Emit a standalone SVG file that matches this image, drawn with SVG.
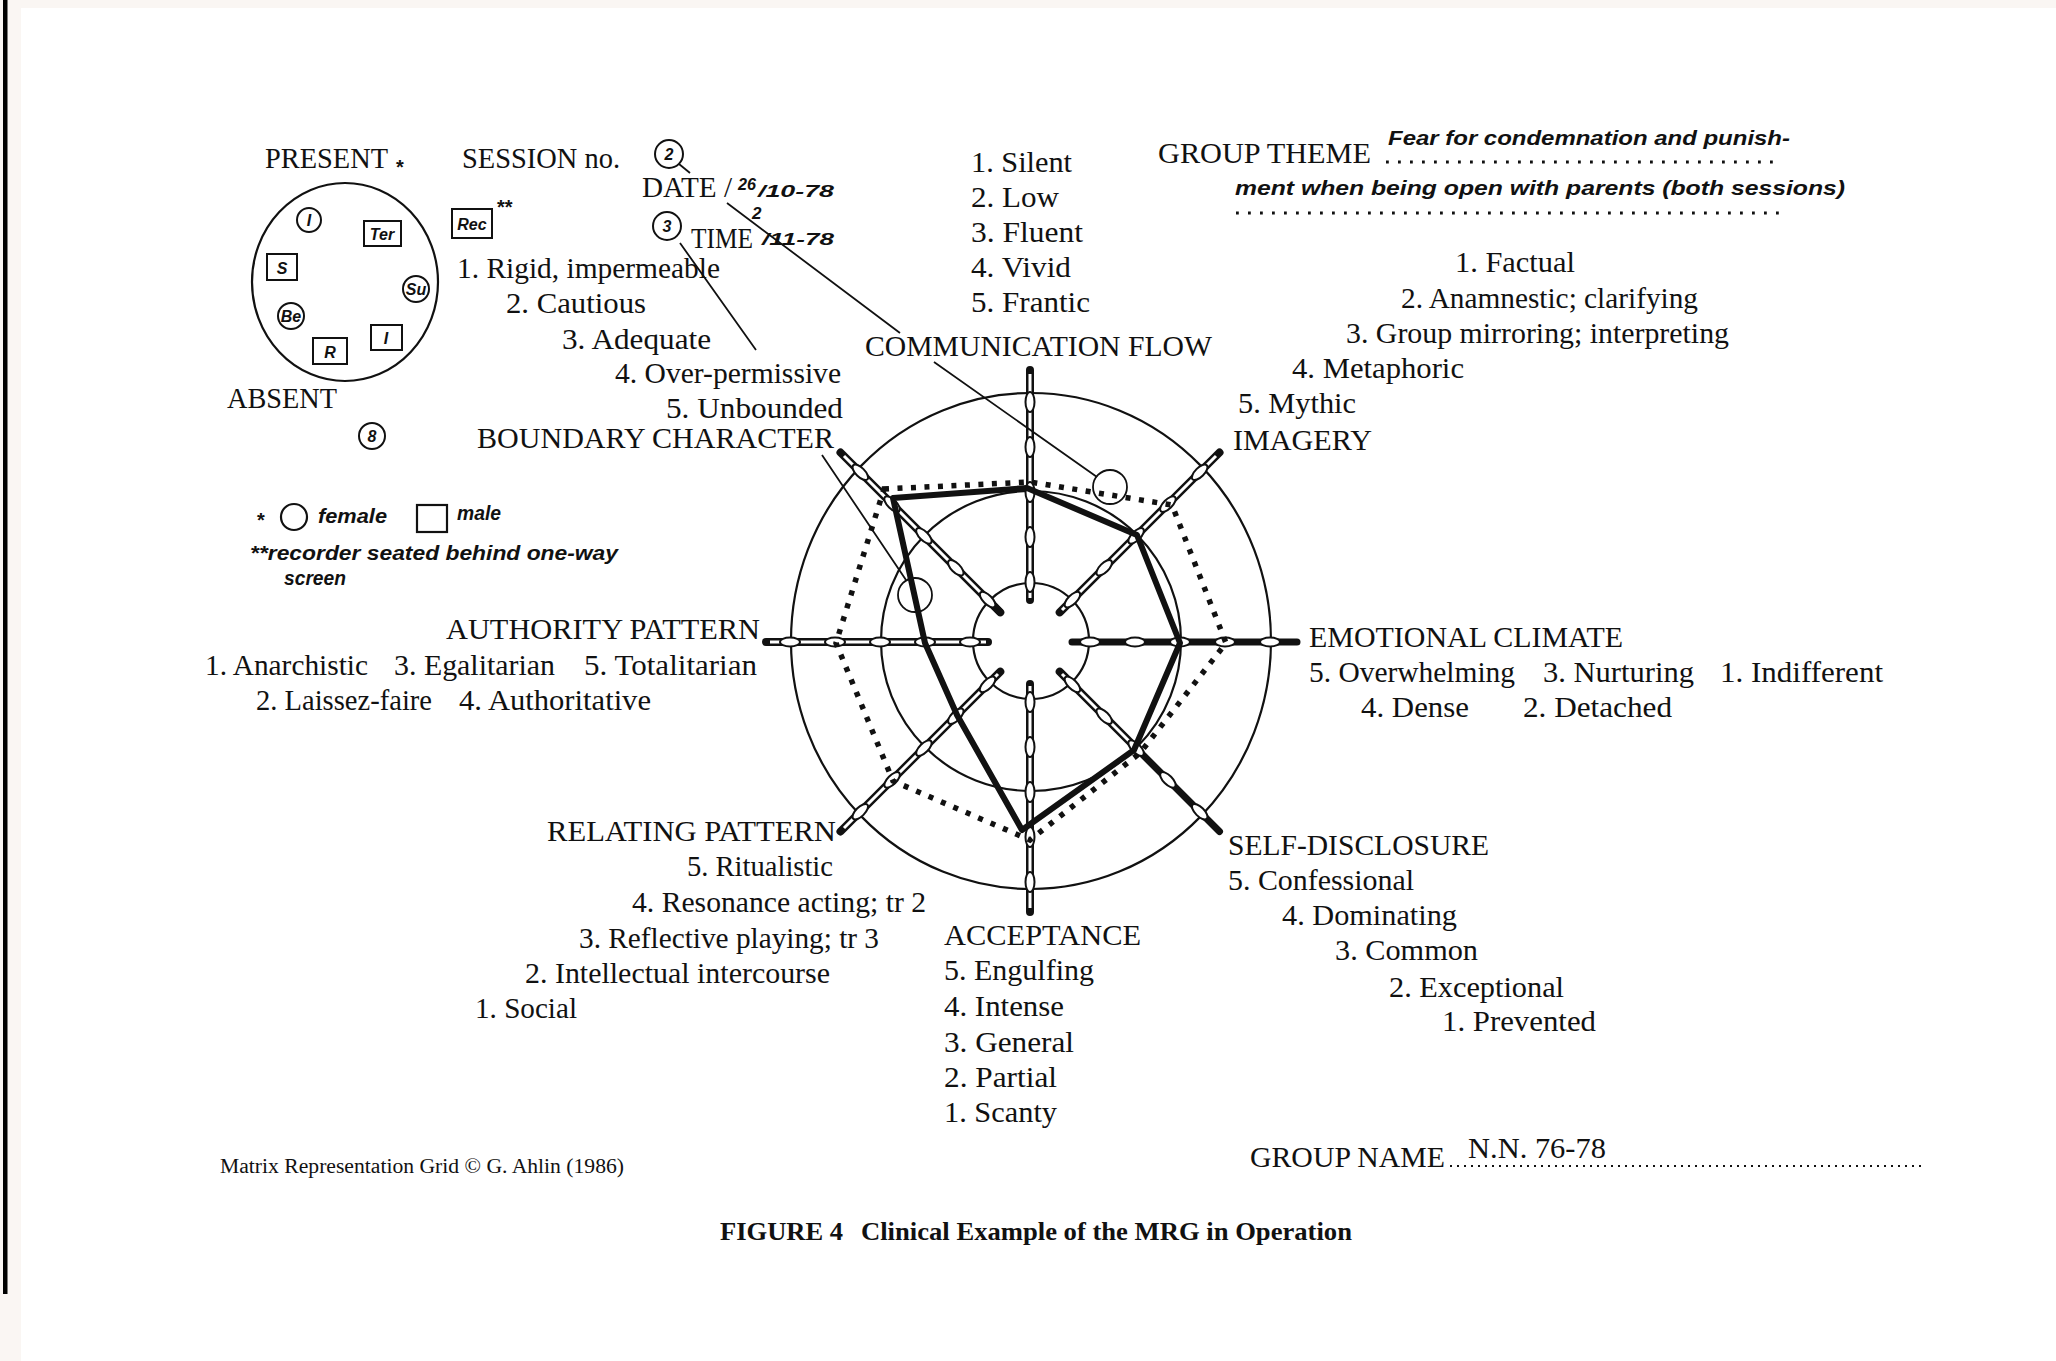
<svg xmlns="http://www.w3.org/2000/svg" width="2056" height="1361" viewBox="0 0 2056 1361" xml:space="preserve">
<style>
.t{font-family:"Liberation Serif","Times New Roman",serif;font-size:29.5px;fill:#111}
.tf{font-family:"Liberation Serif","Times New Roman",serif;font-size:20px;fill:#111}
.tb{font-family:"Liberation Serif","Times New Roman",serif;font-size:25px;font-weight:bold;fill:#111}
.h{font-family:"Liberation Sans",Arial,sans-serif;font-style:italic;font-weight:bold;font-size:20px;fill:#111}
.hs{font-family:"Liberation Sans",Arial,sans-serif;font-style:italic;font-weight:bold;font-size:17px;fill:#111}
.hm{font-family:"Liberation Sans",Arial,sans-serif;font-style:italic;font-weight:bold;font-size:16px;fill:#111;text-anchor:middle}
.ast{font-family:"Liberation Sans",Arial,sans-serif;font-weight:bold;font-size:20px;fill:#111}
.ring{fill:none;stroke:#111;stroke-width:2.2}
.mk{fill:#fff;stroke:#111;stroke-width:2}
.so{stroke:#111;stroke-width:8;stroke-linecap:round;fill:none}
.si{stroke:#fff;stroke-width:3;fill:none}
.ss{stroke:#111;stroke-width:7;stroke-linecap:round;fill:none}
.ann{stroke:#111;stroke-width:1.8;fill:none}
.lead{stroke:#111;stroke-width:2.8;stroke-dasharray:2.8 9.2}
.lead2{stroke:#111;stroke-width:2;stroke-dasharray:2 5}
</style>
<defs>
<ellipse id="bead" cx="0" cy="0" rx="4.5" ry="10" fill="#fff" stroke="#111" stroke-width="2"/>
</defs>
<rect x="0" y="0" width="2056" height="1361" fill="#faf6f3"/>
<rect x="21" y="8" width="2035" height="1353" fill="#ffffff"/>
<rect x="3" y="0" width="4.5" height="1294" fill="#000"/>

<g id="present-seating">
<text class="t" x="265" y="168" textLength="123" lengthAdjust="spacingAndGlyphs">PRESENT</text>
<text class="ast" x="396" y="174">*</text>
<ellipse class="ring" cx="345" cy="282" rx="93" ry="99"/>
<circle class="mk" cx="309" cy="220" r="12"/><text class="hm" x="309" y="226">I</text>
<rect class="mk" x="364" y="221" width="37" height="25"/><text class="hm" x="382" y="240">Ter</text>
<rect class="mk" x="267" y="254" width="30" height="26"/><text class="hm" x="282" y="274">S</text>
<circle class="mk" cx="416" cy="289" r="13"/><text class="hm" x="416" y="295" font-size="15">Su</text>
<circle class="mk" cx="291" cy="316" r="13"/><text class="hm" x="291" y="322" font-size="15">Be</text>
<rect class="mk" x="313" y="338" width="34" height="26"/><text class="hm" x="330" y="358">R</text>
<rect class="mk" x="371" y="325" width="31" height="25"/><text class="hm" x="386" y="344">I</text>
<text class="t" x="227" y="408" textLength="110" lengthAdjust="spacingAndGlyphs">ABSENT</text>
<circle class="mk" cx="372" cy="436" r="13"/><text class="hm" x="372" y="442">8</text>
</g>

<g id="session-info">
<text class="t" x="462" y="168" textLength="158" lengthAdjust="spacingAndGlyphs">SESSION no.</text>
<circle class="mk" cx="669" cy="154" r="14"/><text class="hm" x="669" y="160">2</text>
<path class="ann" d="M679 164 L690 173"/>
<text class="t" x="642" y="197" textLength="90" lengthAdjust="spacingAndGlyphs">DATE /</text>
<text class="hs" x="738" y="190" font-size="14" textLength="18" lengthAdjust="spacingAndGlyphs">26</text>
<text class="hs" x="758" y="197" textLength="76" lengthAdjust="spacingAndGlyphs">/10-78</text>
<circle class="mk" cx="667" cy="226" r="14"/><text class="hm" x="667" y="232">3</text>
<text class="t" x="691" y="248" textLength="62" lengthAdjust="spacingAndGlyphs">TIME</text>
<text class="hs" x="752" y="219" font-size="13">2</text>
<text class="hs" x="762" y="245" textLength="72" lengthAdjust="spacingAndGlyphs">/11-78</text>
<rect class="mk" x="452" y="209" width="40" height="29"/><text class="hm" x="472" y="230">Rec</text>
<text class="ast" x="497" y="214" font-size="17">**</text>
</g>

<g id="boundary-character">
<text class="t" x="457" y="278" textLength="263" lengthAdjust="spacingAndGlyphs">1.  Rigid, impermeable</text>
<text class="t" x="506" y="313" textLength="140" lengthAdjust="spacingAndGlyphs">2.  Cautious</text>
<text class="t" x="562" y="349" textLength="149" lengthAdjust="spacingAndGlyphs">3.  Adequate</text>
<text class="t" x="615" y="383" textLength="226" lengthAdjust="spacingAndGlyphs">4.  Over-permissive</text>
<text class="t" x="666" y="418" textLength="177" lengthAdjust="spacingAndGlyphs">5.  Unbounded</text>
<text class="t" x="477" y="448" textLength="357" lengthAdjust="spacingAndGlyphs">BOUNDARY CHARACTER</text>
</g>

<g id="legend">
<text class="ast" x="257" y="527">*</text>
<circle class="ring" cx="294" cy="517" r="13"/>
<text class="h" x="318" y="523" textLength="69" lengthAdjust="spacingAndGlyphs">female</text>
<rect class="ring" x="417" y="505" width="30" height="27"/>
<text class="h" x="457" y="520" textLength="44" lengthAdjust="spacingAndGlyphs">male</text>
<text class="h" x="250" y="560" textLength="368" lengthAdjust="spacingAndGlyphs">**recorder seated behind one-way</text>
<text class="h" x="284" y="585" textLength="62" lengthAdjust="spacingAndGlyphs">screen</text>
</g>

<g id="communication-flow">
<text class="t" x="971" y="172" textLength="101" lengthAdjust="spacingAndGlyphs">1.  Silent</text>
<text class="t" x="971" y="207" textLength="88" lengthAdjust="spacingAndGlyphs">2.  Low</text>
<text class="t" x="971" y="242" textLength="112" lengthAdjust="spacingAndGlyphs">3.  Fluent</text>
<text class="t" x="971" y="277" textLength="100" lengthAdjust="spacingAndGlyphs">4.  Vivid</text>
<text class="t" x="971" y="312" textLength="119" lengthAdjust="spacingAndGlyphs">5.  Frantic</text>
<text class="t" x="865" y="356" textLength="347" lengthAdjust="spacingAndGlyphs">COMMUNICATION FLOW</text>
</g>

<g id="group-theme">
<text class="t" x="1158" y="163" textLength="213" lengthAdjust="spacingAndGlyphs">GROUP THEME</text>
<line class="lead" x1="1386" y1="162" x2="1782" y2="162"/>
<text class="h" x="1388" y="145" textLength="402" lengthAdjust="spacingAndGlyphs">Fear for condemnation and punish-</text>
<text class="h" x="1235" y="195" textLength="610" lengthAdjust="spacingAndGlyphs">ment when being open with parents (both sessions)</text>
<line class="lead" x1="1236" y1="213" x2="1782" y2="213"/>
</g>

<g id="imagery">
<text class="t" x="1455" y="272" textLength="120" lengthAdjust="spacingAndGlyphs">1.  Factual</text>
<text class="t" x="1401" y="308" textLength="297" lengthAdjust="spacingAndGlyphs">2.  Anamnestic; clarifying</text>
<text class="t" x="1346" y="343" textLength="383" lengthAdjust="spacingAndGlyphs">3.  Group mirroring; interpreting</text>
<text class="t" x="1292" y="378" textLength="172" lengthAdjust="spacingAndGlyphs">4.  Metaphoric</text>
<text class="t" x="1238" y="413" textLength="118" lengthAdjust="spacingAndGlyphs">5.  Mythic</text>
<text class="t" x="1233" y="450" textLength="139" lengthAdjust="spacingAndGlyphs">IMAGERY</text>
</g>

<g id="emotional-climate">
<text class="t" x="1309" y="647" textLength="314" lengthAdjust="spacingAndGlyphs">EMOTIONAL CLIMATE</text>
<text class="t" x="1309" y="682" textLength="206" lengthAdjust="spacingAndGlyphs">5.  Overwhelming</text>
<text class="t" x="1543" y="682" textLength="151" lengthAdjust="spacingAndGlyphs">3.  Nurturing</text>
<text class="t" x="1720" y="682" textLength="163" lengthAdjust="spacingAndGlyphs">1.  Indifferent</text>
<text class="t" x="1361" y="717" textLength="108" lengthAdjust="spacingAndGlyphs">4.  Dense</text>
<text class="t" x="1523" y="717" textLength="149" lengthAdjust="spacingAndGlyphs">2.  Detached</text>
</g>

<g id="self-disclosure">
<text class="t" x="1228" y="855" textLength="261" lengthAdjust="spacingAndGlyphs">SELF-DISCLOSURE</text>
<text class="t" x="1228" y="890" textLength="186" lengthAdjust="spacingAndGlyphs">5.  Confessional</text>
<text class="t" x="1282" y="925" textLength="175" lengthAdjust="spacingAndGlyphs">4.  Dominating</text>
<text class="t" x="1335" y="960" textLength="143" lengthAdjust="spacingAndGlyphs">3.  Common</text>
<text class="t" x="1389" y="997" textLength="175" lengthAdjust="spacingAndGlyphs">2.  Exceptional</text>
<text class="t" x="1442" y="1031" textLength="154" lengthAdjust="spacingAndGlyphs">1.  Prevented</text>
</g>

<g id="acceptance">
<text class="t" x="944" y="945" textLength="197" lengthAdjust="spacingAndGlyphs">ACCEPTANCE</text>
<text class="t" x="944" y="980" textLength="150" lengthAdjust="spacingAndGlyphs">5.  Engulfing</text>
<text class="t" x="944" y="1016" textLength="120" lengthAdjust="spacingAndGlyphs">4.  Intense</text>
<text class="t" x="944" y="1052" textLength="130" lengthAdjust="spacingAndGlyphs">3.  General</text>
<text class="t" x="944" y="1087" textLength="113" lengthAdjust="spacingAndGlyphs">2.  Partial</text>
<text class="t" x="944" y="1122" textLength="113" lengthAdjust="spacingAndGlyphs">1.  Scanty</text>
</g>

<g id="relating-pattern">
<text class="t" x="547" y="841" textLength="289" lengthAdjust="spacingAndGlyphs">RELATING PATTERN</text>
<text class="t" x="687" y="876" textLength="146" lengthAdjust="spacingAndGlyphs">5. Ritualistic</text>
<text class="t" x="632" y="912" textLength="294" lengthAdjust="spacingAndGlyphs">4.  Resonance acting; tr 2</text>
<text class="t" x="579" y="948" textLength="300" lengthAdjust="spacingAndGlyphs">3.  Reflective playing; tr 3</text>
<text class="t" x="525" y="983" textLength="305" lengthAdjust="spacingAndGlyphs">2.  Intellectual intercourse</text>
<text class="t" x="475" y="1018" textLength="102" lengthAdjust="spacingAndGlyphs">1.  Social</text>
</g>

<g id="authority-pattern">
<text class="t" x="446" y="639" textLength="314" lengthAdjust="spacingAndGlyphs">AUTHORITY PATTERN</text>
<text class="t" x="205" y="675" textLength="163" lengthAdjust="spacingAndGlyphs">1.  Anarchistic</text>
<text class="t" x="394" y="675" textLength="161" lengthAdjust="spacingAndGlyphs">3.  Egalitarian</text>
<text class="t" x="584" y="675" textLength="173" lengthAdjust="spacingAndGlyphs">5.  Totalitarian</text>
<text class="t" x="256" y="710" textLength="176" lengthAdjust="spacingAndGlyphs">2.  Laissez-faire</text>
<text class="t" x="459" y="710" textLength="192" lengthAdjust="spacingAndGlyphs">4.  Authoritative</text>
</g>

<g id="radar">
<circle class="ring" cx="1031" cy="641" r="58"/>
<circle class="ring" cx="1031" cy="641" r="150"/>
<ellipse class="ring" cx="1031" cy="641" rx="240" ry="248"/>
<g id="spokes">
<path class="so" d="M1030 600 L1030 370 M1059.7 612.3 L1219.5 452.5 M1059.7 671.7 L1136 748 M1030 684 L1030 912 M1000.3 671.7 L840.5 831.5 M988 642 L766 642 M1000.3 612.3 L840.5 452.5"/>
<path class="si" d="M1030 598 L1030 374 M1062 610 L1216 456 M1062 674 L1134 746 M1030 686 L1030 908 M998 674 L844 828 M986 642 L770 642 M998 610 L844 456"/>
<path class="ss" d="M1072 642 L1297 642 M1134 746 L1219.5 831.5 M985 596 L1000 612"/>
<use href="#bead" transform="translate(1030,582)"/><use href="#bead" transform="translate(1030,537)"/><use href="#bead" transform="translate(1030,492)"/><use href="#bead" transform="translate(1030,447)"/><use href="#bead" transform="translate(1030,402)"/>
<use href="#bead" transform="translate(1072.4,599.6) rotate(45)"/><use href="#bead" transform="translate(1104.2,567.8) rotate(45)"/><use href="#bead" transform="translate(1136.1,535.9) rotate(45)"/><use href="#bead" transform="translate(1167.9,504.1) rotate(45)"/><use href="#bead" transform="translate(1199.7,472.3) rotate(45)"/>
<use href="#bead" transform="translate(1090,642) rotate(90)"/><use href="#bead" transform="translate(1135,642) rotate(90)"/><use href="#bead" transform="translate(1180,642) rotate(90)"/><use href="#bead" transform="translate(1225,642) rotate(90)"/><use href="#bead" transform="translate(1270,642) rotate(90)"/>
<use href="#bead" transform="translate(1072.4,684.4) rotate(-45)"/><use href="#bead" transform="translate(1104.2,716.2) rotate(-45)"/><use href="#bead" transform="translate(1136.1,748.1) rotate(-45)"/><use href="#bead" transform="translate(1167.9,779.9) rotate(-45)"/><use href="#bead" transform="translate(1199.7,811.7) rotate(-45)"/>
<use href="#bead" transform="translate(1030,702)"/><use href="#bead" transform="translate(1030,747)"/><use href="#bead" transform="translate(1030,792)"/><use href="#bead" transform="translate(1030,837)"/><use href="#bead" transform="translate(1030,882)"/>
<use href="#bead" transform="translate(987.6,684.4) rotate(45)"/><use href="#bead" transform="translate(955.8,716.2) rotate(45)"/><use href="#bead" transform="translate(923.9,748.1) rotate(45)"/><use href="#bead" transform="translate(892.1,779.9) rotate(45)"/><use href="#bead" transform="translate(860.3,811.7) rotate(45)"/>
<use href="#bead" transform="translate(970,642) rotate(90)"/><use href="#bead" transform="translate(925,642) rotate(90)"/><use href="#bead" transform="translate(880,642) rotate(90)"/><use href="#bead" transform="translate(835,642) rotate(90)"/><use href="#bead" transform="translate(790,642) rotate(90)"/>
<use href="#bead" transform="translate(987.6,599.6) rotate(-45)"/><use href="#bead" transform="translate(955.8,567.8) rotate(-45)"/><use href="#bead" transform="translate(923.9,535.9) rotate(-45)"/><use href="#bead" transform="translate(892.1,504.1) rotate(-45)"/><use href="#bead" transform="translate(860.3,472.3) rotate(-45)"/>
</g>
<polygon id="session-2-profile" points="884,489 1030,482 1172,505 1226,643 1140,753 1030,840 893,781 836,643" fill="none" stroke="#111" stroke-width="5.5" stroke-dasharray="5 8.5"/>
<polygon id="session-3-profile" points="893,498 1027,488 1137,535 1180,643 1134,750 1022,830 957,715 925,643" fill="none" stroke="#111" stroke-width="6" stroke-linejoin="round"/>
<circle class="ann" cx="1110" cy="487" r="17"/>
<circle class="ann" cx="915" cy="595" r="17"/>
</g>

<g id="connectors">
<path class="ann" d="M727 203 L900 333 M934 362 L1097 477"/>
<path class="ann" d="M680 243 L756 350 M822 455 L906 580"/>
</g>

<g id="footer">
<text class="tf" x="220" y="1173" textLength="404" lengthAdjust="spacingAndGlyphs">Matrix Representation Grid © G. Ahlin (1986)</text>
<text class="t" x="1250" y="1167" textLength="195" lengthAdjust="spacingAndGlyphs">GROUP NAME</text>
<text class="t" x="1468" y="1158" font-size="26" textLength="138" lengthAdjust="spacingAndGlyphs">N.N. 76-78</text>
<line class="lead2" x1="1450" y1="1166" x2="1922" y2="1166"/>
<text class="tb" x="720" y="1240" textLength="123" lengthAdjust="spacingAndGlyphs">FIGURE 4</text>
<text class="tb" x="861" y="1240" textLength="491" lengthAdjust="spacingAndGlyphs">Clinical Example of the MRG in Operation</text>
</g>
</svg>
